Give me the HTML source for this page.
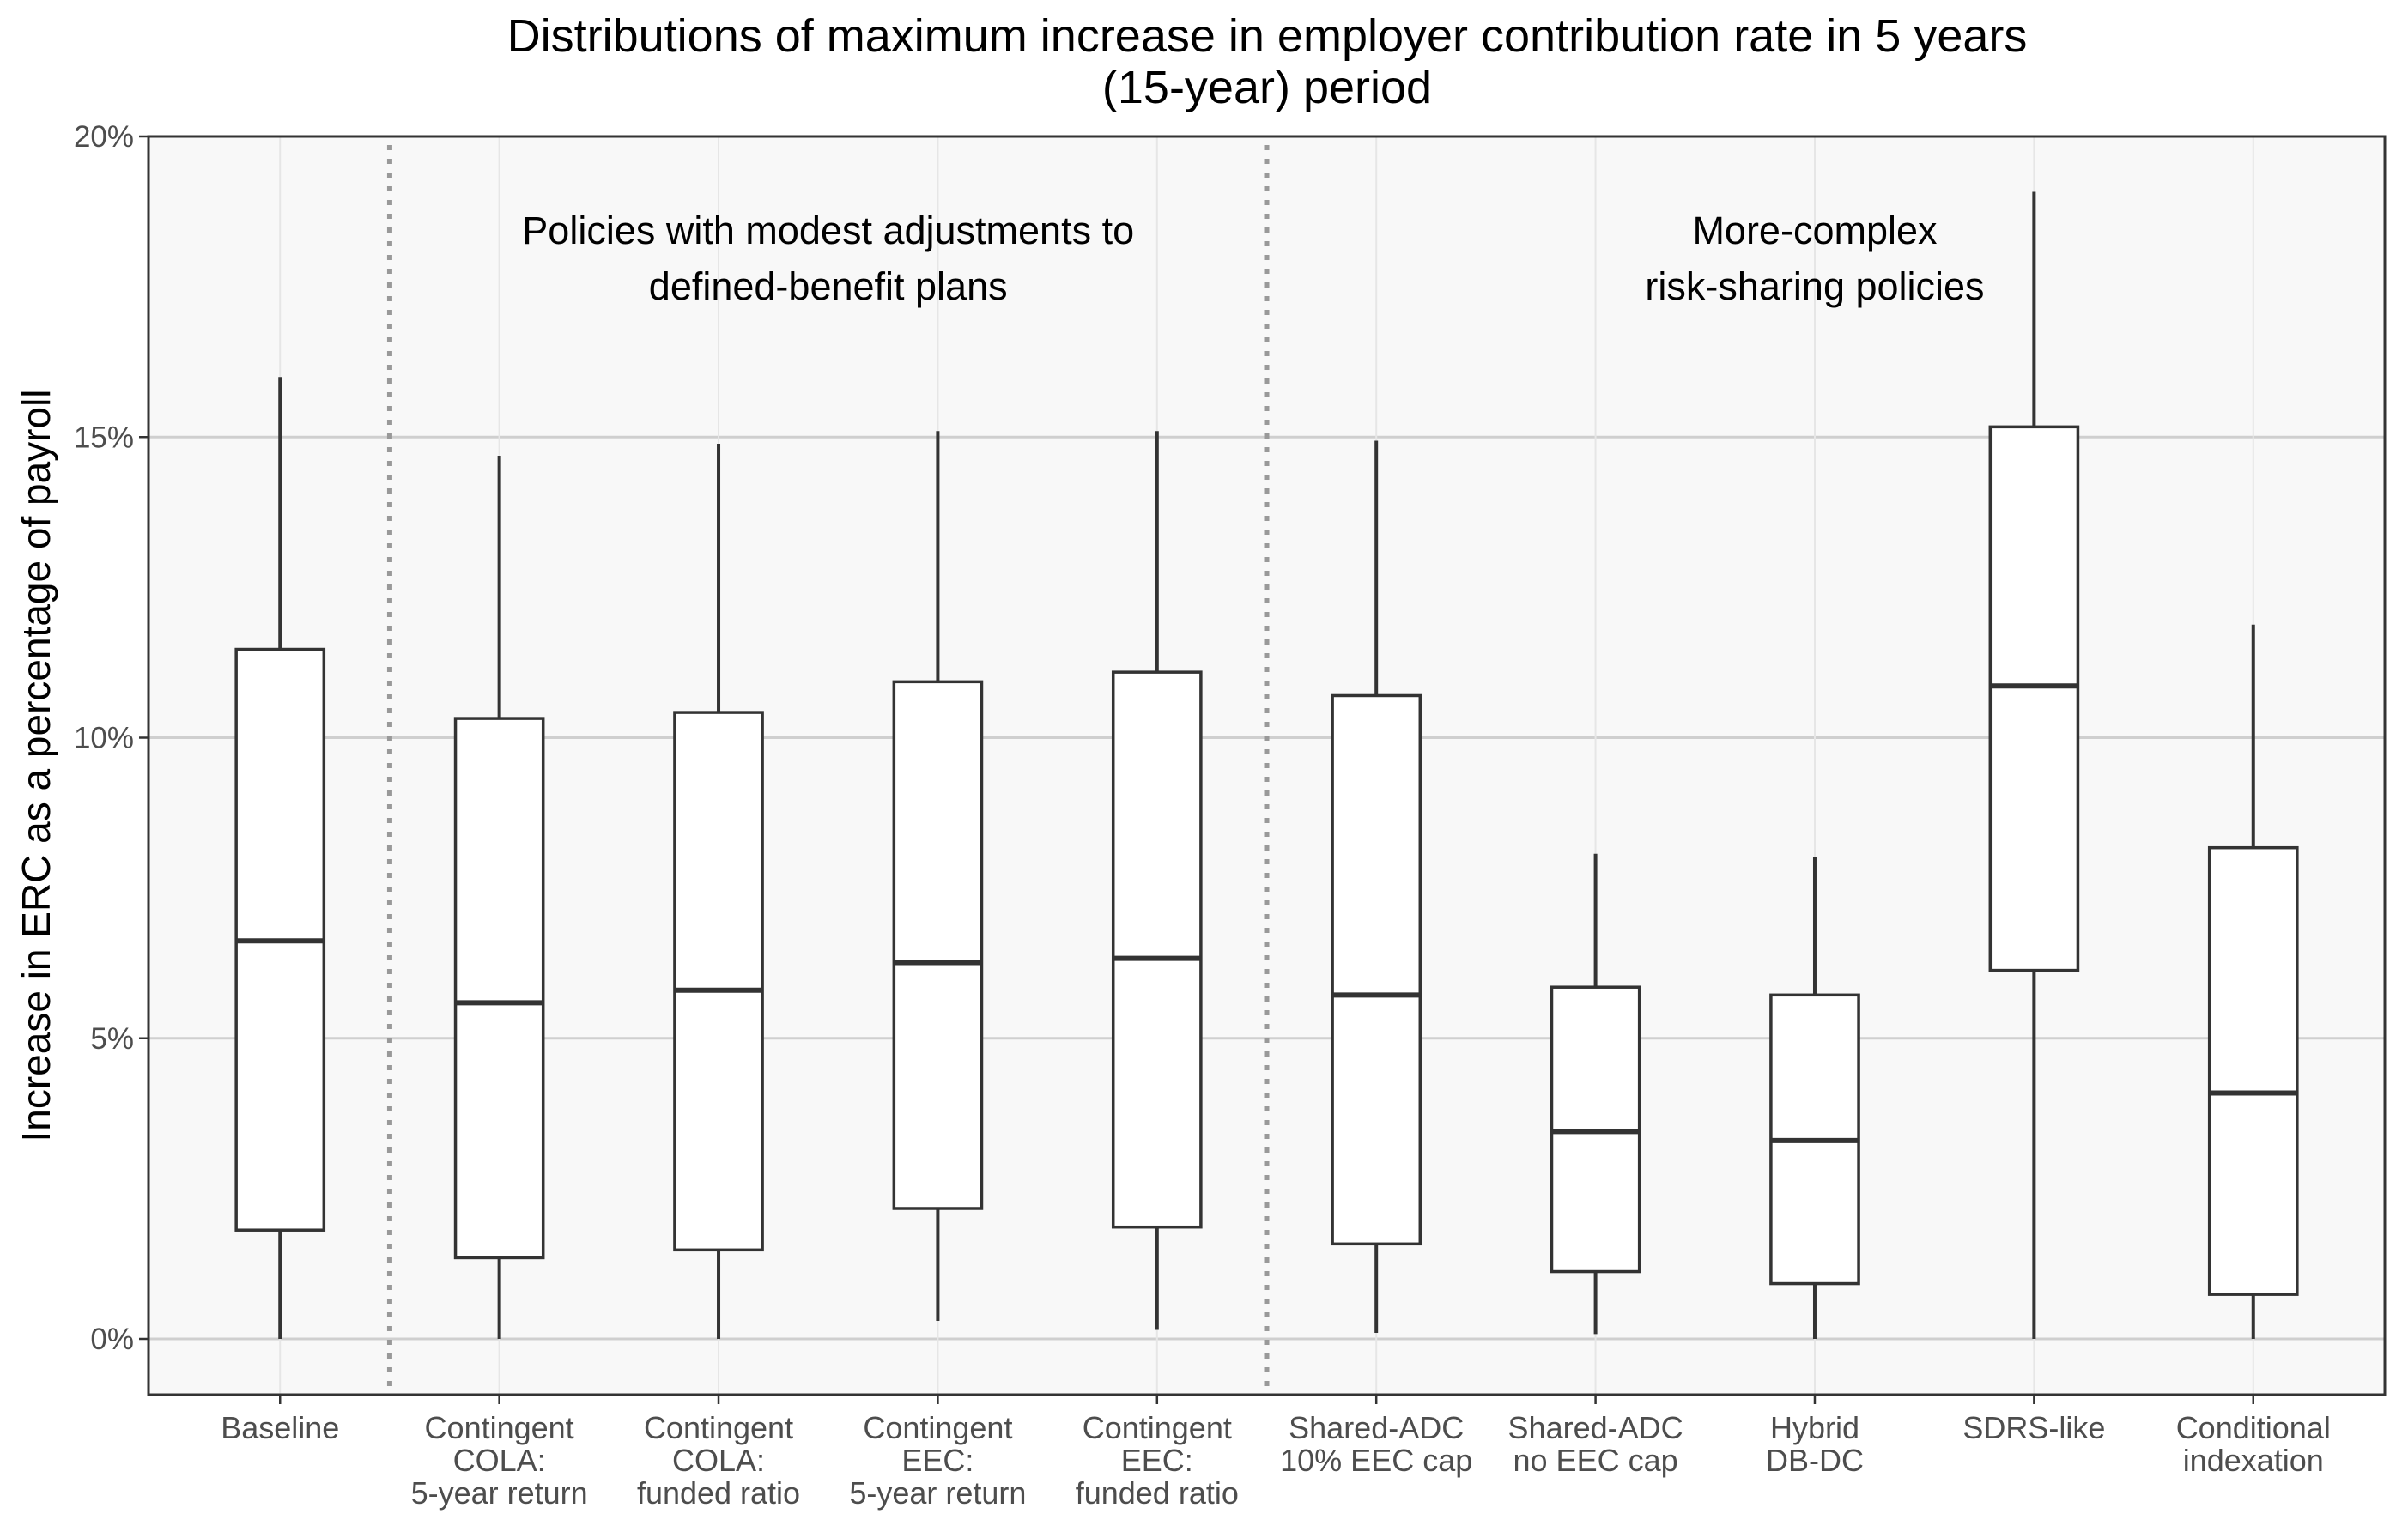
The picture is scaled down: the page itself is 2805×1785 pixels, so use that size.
<!DOCTYPE html>
<html><head><meta charset="utf-8"><style>
html,body{margin:0;padding:0;background:#fff;}
svg{display:block;font-family:"Liberation Sans",sans-serif;}
</style></head><body>
<svg id="chart" width="2805" height="1785" viewBox="0 0 2805 1785" xmlns="http://www.w3.org/2000/svg">
<rect x="0" y="0" width="2805" height="1785" fill="#fff"/>
<rect x="173" y="159" width="2605" height="1466" fill="#f8f8f8"/>
<g id="grid"></g>
<g id="marks"></g>
<g id="axes"></g>
<text x="1476" y="60" text-anchor="middle" font-size="54" fill="#000">Distributions of maximum increase in employer contribution rate in 5 years</text>
<text x="1476" y="120" text-anchor="middle" font-size="54" fill="#000">(15-year) period</text>
<text transform="translate(58,892) rotate(-90)" text-anchor="middle" font-size="46" fill="#000">Increase in ERC as a percentage of payroll</text>
</svg>
<script>
const categories = [["Baseline"],["Contingent","COLA:","5-year return"],["Contingent","COLA:","funded ratio"],["Contingent","EEC:","5-year return"],["Contingent","EEC:","funded ratio"],["Shared-ADC","10% EEC cap"],["Shared-ADC","no EEC cap"],["Hybrid","DB-DC"],["SDRS-like"],["Conditional","indexation"]];
const whiskerMax = [16.0,14.69,14.89,15.1,15.1,14.94,8.07,8.02,19.08,11.88];
const q3 = [11.47,10.32,10.42,10.93,11.09,10.70,5.85,5.72,15.17,8.17];
const median = [6.62,5.59,5.80,6.26,6.33,5.72,3.45,3.30,10.86,4.09];
const q1 = [1.81,1.35,1.48,2.17,1.86,1.58,1.12,0.92,6.13,0.74];
const whiskerMin = [0,0,0,0.3,0.15,0.1,0.08,0,0,0];
const yTicks = [0,5,10,15,20];
const yTickLabels = ["0%","5%","10%","15%","20%"];
const dividers = [0.5,4.5];
const annotations = [{x:2.5,lines:["Policies with modest adjustments to","defined-benefit plans"]},{x:7,lines:["More-complex","risk-sharing policies"]}];

const NS="http://www.w3.org/2000/svg";
const L=173,R=2778,T=159,B=1625;
const step=(R-L)/(categories.length+0.2);
function xs(i){return L+(0.6+i)*step;}
function ys(v){return 1560-v*(1560-159)/20;}
function mk(tag,attrs,parent){const e=document.createElementNS(NS,tag);for(const k in attrs)e.setAttribute(k,attrs[k]);parent.appendChild(e);return e;}
const grid=document.getElementById('grid'),marks=document.getElementById('marks'),axes=document.getElementById('axes');

yTicks.forEach((t,i)=>{
  const g=mk('line',{x1:L,x2:R,y1:ys(t),y2:ys(t),stroke:'#cfcfcf','stroke-width':3},grid);
  
  
  const tk=mk('line',{x1:L-11,x2:L,y1:ys(t),y2:ys(t),stroke:'#333','stroke-width':2.5},axes);
  
  
  const lb=mk('text',{x:L-17,y:ys(t)+12,'text-anchor':'end','font-size':35,fill:'#4d4d4d'},axes);
  lb.textContent=yTickLabels[i];
  
  
});
categories.forEach((c,i)=>{
  const g=mk('line',{x1:xs(i),x2:xs(i),y1:T,y2:B,stroke:'#e6e6e6','stroke-width':2},grid);
  
  
});
dividers.forEach(d=>{
  const l=mk('line',{x1:xs(d),x2:xs(d),y1:T+10,y2:B,stroke:'#999','stroke-width':6,'stroke-dasharray':'6 10'},grid);
  
  
});
annotations.forEach(a=>{
  a.lines.forEach((s,j)=>{
    const t=mk('text',{x:xs(a.x),y:284+j*65,'text-anchor':'middle','font-size':45,fill:'#000'},grid);
    t.textContent=s;
    
    
  });
});
const bw=step*0.4;
categories.forEach((c,i)=>{
  const x=xs(i);
  const g=mk('g',{},marks);
  
  
  const w1=mk('line',{x1:x,x2:x,y1:ys(whiskerMax[i]),y2:ys(q3[i]),stroke:'#333','stroke-width':4},g);
  
  
  const w2=mk('line',{x1:x,x2:x,y1:ys(q1[i]),y2:ys(whiskerMin[i]),stroke:'#333','stroke-width':4},g);
  
  
  const r=mk('rect',{x:x-bw/2,y:ys(q3[i]),width:bw,height:ys(q1[i])-ys(q3[i]),fill:'#fff',stroke:'#333','stroke-width':3.5},g);
  
  
  const m=mk('line',{x1:x-bw/2,x2:x+bw/2,y1:ys(median[i]),y2:ys(median[i]),stroke:'#333','stroke-width':6},g);
  
  
  const tk=mk('line',{x1:x,x2:x,y1:B,y2:B+11,stroke:'#333','stroke-width':2.5},axes);
  
  
  c.forEach((s,j)=>{
    const t=mk('text',{x:x,y:1676+j*38,'text-anchor':'middle','font-size':36,fill:'#4d4d4d'},axes);
    t.textContent=s;
    
    
  });
});
const fr=mk('rect',{x:L,y:T,width:R-L,height:B-T,fill:'none',stroke:'#333','stroke-width':3},axes);


</script>
</body></html>
